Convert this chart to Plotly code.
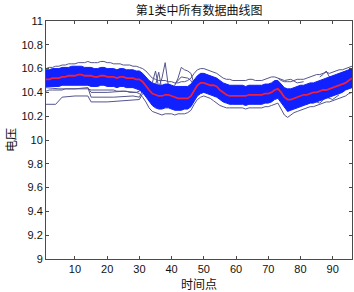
import plotly.graph_objects as go

t = list(range(1, 97))

mean_v = [10.51,10.51,10.52,10.52,10.52,10.53,10.53,10.54,10.54,10.54,
          10.55,10.55,10.54,10.54,10.54,10.53,10.53,10.54,10.54,10.53,
          10.53,10.53,10.52,10.53,10.53,10.52,10.52,10.52,10.51,10.51,
          10.49,10.45,10.42,10.39,10.38,10.37,10.37,10.38,10.38,10.37,
          10.36,10.35,10.35,10.35,10.35,10.37,10.42,10.46,10.48,10.48,
          10.47,10.46,10.46,10.45,10.42,10.40,10.38,10.37,10.37,10.37,
          10.37,10.37,10.37,10.38,10.38,10.38,10.38,10.38,10.39,10.39,
          10.40,10.42,10.43,10.40,10.36,10.34,10.34,10.35,10.36,10.37,
          10.38,10.38,10.39,10.40,10.40,10.41,10.42,10.42,10.43,10.44,
          10.45,10.46,10.47,10.48,10.50,10.52]

band_upper = [10.59,10.59,10.60,10.60,10.60,10.61,10.61,10.61,10.62,10.62,
              10.62,10.62,10.61,10.61,10.61,10.60,10.60,10.61,10.61,10.60,
              10.60,10.60,10.59,10.60,10.60,10.59,10.59,10.59,10.58,10.58,
              10.56,10.53,10.50,10.48,10.47,10.46,10.46,10.47,10.47,10.46,
              10.45,10.45,10.45,10.45,10.45,10.47,10.51,10.54,10.56,10.56,
              10.55,10.54,10.53,10.52,10.50,10.48,10.47,10.46,10.46,10.46,
              10.46,10.46,10.45,10.46,10.46,10.46,10.46,10.46,10.47,10.47,
              10.48,10.50,10.50,10.47,10.44,10.43,10.43,10.44,10.45,10.46,
              10.46,10.47,10.48,10.48,10.49,10.50,10.51,10.52,10.53,10.54,
              10.55,10.56,10.57,10.58,10.59,10.60]

band_lower = [10.45,10.45,10.45,10.45,10.45,10.46,10.46,10.46,10.46,10.46,
              10.46,10.46,10.46,10.46,10.45,10.45,10.45,10.46,10.46,10.45,
              10.45,10.45,10.44,10.45,10.45,10.44,10.44,10.44,10.43,10.42,
              10.40,10.36,10.32,10.29,10.27,10.26,10.26,10.27,10.27,10.26,
              10.25,10.25,10.25,10.26,10.26,10.28,10.33,10.37,10.39,10.40,
              10.39,10.38,10.37,10.36,10.34,10.32,10.31,10.30,10.30,10.30,
              10.30,10.30,10.29,10.30,10.30,10.30,10.30,10.30,10.31,10.31,
              10.32,10.34,10.35,10.31,10.27,10.24,10.25,10.26,10.27,10.28,
              10.29,10.30,10.31,10.31,10.32,10.33,10.34,10.35,10.36,10.37,
              10.38,10.39,10.40,10.42,10.43,10.44]

outer_upper = [10.60,10.61,10.61,10.62,10.62,10.63,10.63,10.64,10.64,10.64,
               10.65,10.65,10.65,10.66,10.65,10.65,10.65,10.66,10.66,10.65,
               10.65,10.64,10.64,10.64,10.63,10.63,10.63,10.62,10.62,10.61,
               10.60,10.58,10.55,10.52,10.51,10.50,10.50,10.50,10.49,10.49,
               10.48,10.48,10.49,10.49,10.50,10.52,10.56,10.59,10.60,10.60,
               10.59,10.58,10.57,10.56,10.54,10.52,10.51,10.51,10.50,10.50,
               10.50,10.50,10.50,10.51,10.51,10.50,10.50,10.50,10.51,10.52,
               10.53,10.53,10.52,10.50,10.49,10.49,10.49,10.50,10.51,10.51,
               10.51,10.52,10.53,10.54,10.55,10.55,10.56,10.57,10.56,10.57,
               10.58,10.59,10.59,10.60,10.61,10.62]

outer_lower = [10.41,10.42,10.42,10.42,10.42,10.42,10.43,10.43,10.43,10.43,
               10.43,10.43,10.43,10.43,10.42,10.42,10.42,10.42,10.42,10.42,
               10.42,10.42,10.41,10.41,10.41,10.41,10.40,10.40,10.40,10.39,
               10.36,10.32,10.27,10.24,10.23,10.22,10.21,10.22,10.22,10.22,
               10.21,10.22,10.22,10.22,10.23,10.25,10.30,10.34,10.36,10.37,
               10.36,10.35,10.33,10.31,10.29,10.28,10.27,10.27,10.27,10.27,
               10.27,10.27,10.26,10.27,10.27,10.27,10.27,10.27,10.28,10.28,
               10.29,10.30,10.31,10.26,10.21,10.19,10.21,10.23,10.24,10.25,
               10.26,10.27,10.28,10.28,10.29,10.30,10.31,10.32,10.32,10.33,
               10.34,10.35,10.36,10.37,10.39,10.40]

outliers = [
    ([1, 4, 6, 10, 14, 15, 20, 25, 30, 31, 33],
     [10.30, 10.30, 10.36, 10.37, 10.37, 10.32, 10.32, 10.33, 10.34, 10.39, 10.38]),
    ([1, 5, 10, 14, 15, 20, 25, 29, 30, 31],
     [10.44, 10.43, 10.43, 10.44, 10.40, 10.40, 10.41, 10.40, 10.41, 10.45]),
    ([14, 15, 22, 28, 30, 31], [10.44, 10.36, 10.36, 10.37, 10.36, 10.42]),
    ([33, 34, 35, 36, 37, 38, 39, 40], [10.42, 10.48, 10.58, 10.44, 10.52, 10.65, 10.45, 10.42]),
    ([34, 35, 36, 37, 38], [10.40, 10.46, 10.57, 10.42, 10.40]),
    ([40, 41, 42, 43, 44, 45, 46, 47], [10.43, 10.46, 10.52, 10.61, 10.59, 10.58, 10.56, 10.47]),
    ([41, 43, 45, 46, 47], [10.47, 10.53, 10.52, 10.50, 10.46]),
    ([86, 87, 88, 89, 90], [10.53, 10.55, 10.58, 10.53, 10.52]),
    ([73, 75, 77, 79, 81], [10.52, 10.50, 10.51, 10.48, 10.49]),
    ([80, 82, 84, 86, 88, 90, 92], [10.33, 10.30, 10.33, 10.31, 10.36, 10.34, 10.38]),
]

x_ticks = [10, 20, 30, 40, 50, 60, 70, 80, 90]
y_ticks = [9, 9.2, 9.4, 9.6, 9.8, 10, 10.2, 10.4, 10.6, 10.8, 11]
y_tick_text = ["9", "9.2", "9.4", "9.6", "9.8", "10", "10.2", "10.4", "10.6", "10.8", "11"]

SLATE = "#55558f"
BLUE = "#1020ff"

fig = go.Figure()
fig.add_trace(go.Scatter(x=t, y=outer_upper, mode="lines", line=dict(color=SLATE, width=1)))
fig.add_trace(go.Scatter(x=t, y=outer_lower, mode="lines", line=dict(color=SLATE, width=1)))
for xs, ys in outliers:
    fig.add_trace(go.Scatter(x=xs, y=ys, mode="lines", line=dict(color=SLATE, width=1)))
fig.add_trace(go.Scatter(x=t, y=band_lower, mode="lines", line=dict(color=BLUE, width=1)))
fig.add_trace(go.Scatter(x=t, y=band_upper, mode="lines", line=dict(color=BLUE, width=1),
                         fill="tonexty", fillcolor=BLUE))
fig.add_trace(go.Scatter(x=t, y=mean_v, mode="lines", line=dict(color="#f0203a", width=1.8)))

FONT = "Liberation Sans, Arial, Noto Sans CJK SC"
axis_common = dict(showgrid=False, zeroline=False, showline=True, mirror="ticks",
                   linecolor="#4a4a4a", linewidth=1, ticks="inside", ticklen=3,
                   tickcolor="#4a4a4a", tickfont=dict(family=FONT, size=11, color="#111"))

fig.update_layout(
    width=354, height=292,
    margin=dict(l=46, r=2, t=21, b=33),
    paper_bgcolor="white", plot_bgcolor="white",
    showlegend=False,
    font=dict(family=FONT, size=11, color="#111"),
    title=dict(text="第1类中所有数据曲线图", x=0.5627, xanchor="center", y=0.962,
               yanchor="middle", font=dict(family="Noto Sans CJK SC", size=12, color="#111")),
    xaxis=dict(range=[1, 96], tickvals=x_ticks, title=dict(text="时间点", standoff=7,
               font=dict(family="Noto Sans CJK SC", size=12)), **axis_common),
    yaxis=dict(range=[9, 11], tickvals=y_ticks, ticktext=y_tick_text,
               title=dict(text="电压", standoff=2, font=dict(family="Noto Sans CJK SC", size=12)),
               **axis_common),
)

fig.write_html("out.html", config={"displayModeBar": False},
               post_script="document.body.style.margin='0';document.body.style.overflow='hidden';")
